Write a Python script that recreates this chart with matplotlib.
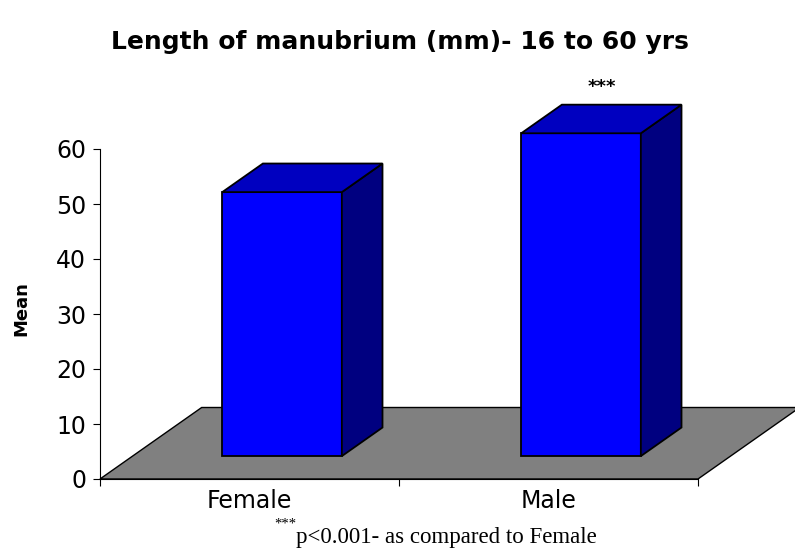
import matplotlib
matplotlib.use("Agg")
import matplotlib.pyplot as plt
from matplotlib.patches import Polygon

# ── data ──────────────────────────────────────────────────────────────────────
categories = ["Female", "Male"]
means = [48.0, 58.7]
y_ticks = [0, 10, 20, 30, 40, 50, 60]
title = "Length of manubrium (mm)- 16 to 60 yrs"
note = "p<0.001- as compared to Female"

# fake 3D: depth of the floor in data units (x in categories, y in value units)
DX, DY = 0.34, 13.0
F0, F1 = 0.32, 0.72  # bar front / back as fraction of floor depth
BAR_W = 0.4

plt.rcParams["font.family"] = ["DejaVu Sans"]

fig = plt.figure(figsize=(7.95, 5.52), dpi=100)
ax = fig.add_axes([100 / 795, 73 / 552, 598 / 795, 330 / 552])
n = len(categories)
ax.set_xlim(0, n)
ax.set_ylim(0, 60)

# floor
floor = Polygon([(0, 0), (n, 0), (n + DX, DY), (DX, DY)], closed=True,
                fc="#808080", ec="black", lw=1, clip_on=False, zorder=1)
ax.add_patch(floor)

centers = [i + 0.5 for i in range(n)]
x_front = [c + F0 * DX for c in centers]
base = F0 * DY
ddx, ddy = (F1 - F0) * DX, (F1 - F0) * DY

ax.bar(x_front, means, width=BAR_W, bottom=base, color="#0000ff",
       edgecolor="black", linewidth=1.3, clip_on=False, zorder=3)

for xf, v in zip(x_front, means):
    x0, x1 = xf - BAR_W / 2, xf + BAR_W / 2
    top = base + v
    top_face = Polygon([(x0, top), (x1, top), (x1 + ddx, top + ddy), (x0 + ddx, top + ddy)],
                       closed=True, fc="#0000c0", ec="black", lw=1.3, clip_on=False, zorder=3)
    side_face = Polygon([(x1, base), (x1 + ddx, base + ddy), (x1 + ddx, top + ddy), (x1, top)],
                        closed=True, fc="#000080", ec="black", lw=1.3, clip_on=False, zorder=3)
    ax.add_patch(side_face)
    ax.add_patch(top_face)

# significance mark over the male bar
ax.text(x_front[1] + ddx / 2, base + means[1] + ddy + 3.3, "***",
        ha="center", va="center", fontsize=13, fontweight="bold", clip_on=False)

# axes styling
for s in ("top", "right"):
    ax.spines[s].set_visible(False)
ax.set_yticks(y_ticks)
ax.tick_params(axis="y", direction="out", length=5, pad=5, labelsize=17)
ax.set_xticks(range(n + 1))
ax.set_xticklabels([])
ax.set_xticks(centers, minor=True)
ax.set_xticklabels(categories, minor=True)
ax.tick_params(axis="x", which="major", direction="out", length=5)
ax.tick_params(axis="x", which="minor", length=0, pad=7, labelsize=17)

fig.text(400 / 795, 1 - 42 / 552, title, ha="center", va="center",
         fontsize=18, fontweight="bold")
fig.text(21 / 795, 1 - 309 / 552, "Mean", rotation=90, ha="center", va="center",
         fontsize=13, fontweight="bold")

fig.text(296 / 795, 1 - 543 / 552, note, ha="left", va="baseline",
         fontsize=16.5, family="Liberation Serif")
fig.text(296 / 795, 1 - 528 / 552, "***", ha="right", va="baseline",
         fontsize=10.5, family="Liberation Serif")

fig.savefig("out.png", dpi=100)
